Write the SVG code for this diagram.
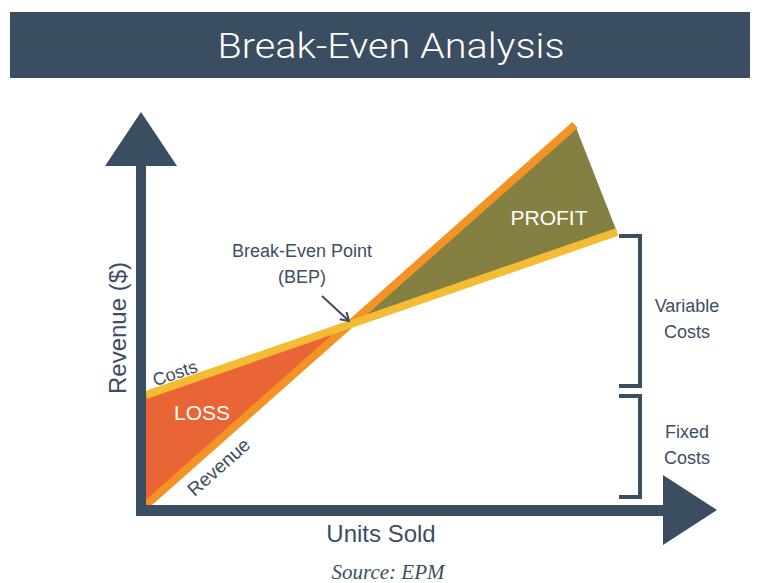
<svg xmlns="http://www.w3.org/2000/svg" width="759" height="583" viewBox="0 0 759 583">
<style>
.lbl{font-family:"Liberation Sans",Arial,sans-serif;fill:#3B4E63}
.wt{font-family:"Liberation Sans",Arial,sans-serif;fill:#ffffff}
.axis{fill:#3A4D61}
.br{fill:none;stroke:#3A4D61;stroke-width:4}
</style>
<defs>
<marker id="ah" markerWidth="12" markerHeight="12" refX="9" refY="6" orient="auto" markerUnits="userSpaceOnUse">
<path d="M1,1 L9,6 L1,11" fill="none" stroke="#3A4D61" stroke-width="2"/>
</marker>
</defs>
<rect width="759" height="583" fill="#ffffff"/>
<g id="title">
<rect x="10" y="12" width="740" height="66" fill="#3A4D61"/>
<text x="391" y="58" text-anchor="middle" font-family="Roboto,'Liberation Sans',sans-serif" font-weight="300" font-size="35" fill="#ffffff" textLength="347" lengthAdjust="spacingAndGlyphs">Break-Even Analysis</text>
</g>
<g id="loss">
<polygon points="146,395 351,323 146,505" fill="#EA6535"/>
<text class="wt" x="202" y="420" text-anchor="middle" font-size="21">LOSS</text>
</g>
<g id="profit">
<polygon points="351,323 575,125 617,232" fill="#848042"/>
<text class="wt" x="549" y="225" text-anchor="middle" font-size="21">PROFIT</text>
</g>
<g id="lines">
<line x1="146" y1="505" x2="575" y2="125" stroke="#F39325" stroke-width="8"/>
<line x1="146" y1="395" x2="617" y2="232" stroke="#F4BC35" stroke-width="8"/>
</g>
<g id="axes">
<rect class="axis" x="136" y="165" width="10" height="351"/>
<polygon class="axis" points="141,112 177,166 105,166"/>
<rect class="axis" x="136" y="505" width="530" height="11"/>
<polygon class="axis" points="663,475 717,510 663,545"/>
</g>
<g id="axis-labels">
<text class="lbl" x="0" y="0" font-size="24" text-anchor="middle" transform="translate(126,328) rotate(-90)">Revenue ($)</text>
<text class="lbl" x="381" y="542" font-size="24" text-anchor="middle">Units Sold</text>
<text x="388" y="579" font-size="21" text-anchor="middle" font-family="'Liberation Serif',serif" font-style="italic" fill="#3B4E63">Source: EPM</text>
</g>
<g id="line-labels">
<text class="lbl" font-size="18" text-anchor="middle" transform="translate(177,379) rotate(-19)">Costs</text>
<text class="lbl" font-size="19" text-anchor="middle" transform="translate(223,472) rotate(-41.5)">Revenue</text>
</g>
<g id="bep">
<text class="lbl" x="302" y="257" font-size="18" text-anchor="middle">Break-Even Point</text>
<text class="lbl" x="302" y="283" font-size="18" text-anchor="middle">(BEP)</text>
</g>
<g id="connectors">
<line x1="322" y1="296" x2="349" y2="321" stroke="#3A4D61" stroke-width="2" marker-end="url(#ah)"/>
</g>
<g id="variable-costs">
<path class="br" d="M619,236 H640 V386 H619"/>
<text class="lbl" x="687" y="312" font-size="18" text-anchor="middle">Variable</text>
<text class="lbl" x="687" y="338" font-size="18" text-anchor="middle">Costs</text>
</g>
<g id="fixed-costs">
<path class="br" d="M619,396 H640 V497 H619"/>
<text class="lbl" x="687" y="438" font-size="18" text-anchor="middle">Fixed</text>
<text class="lbl" x="687" y="464" font-size="18" text-anchor="middle">Costs</text>
</g>
</svg>
